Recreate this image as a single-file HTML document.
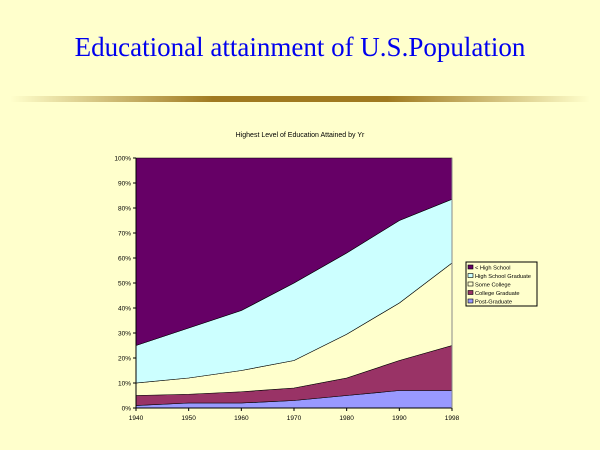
<!DOCTYPE html>
<html><head><meta charset="utf-8"><style>
body{margin:0;width:600px;height:450px;background:#FFFFCC;overflow:hidden;font-family:"Liberation Sans",sans-serif;}
</style></head><body>
<div style="position:absolute;left:0;top:32px;width:600px;text-align:center;font-family:'Liberation Serif',serif;font-size:27px;color:#0000EE;">Educational attainment of U.S.Population</div>
<div style="position:absolute;left:10px;top:96px;width:580px;height:6px;background:linear-gradient(to right,rgba(180,140,40,0),#a07a20 35%,#a07a20 65%,rgba(180,140,40,0));"></div>
<svg id="chart" width="600" height="450" style="position:absolute;left:0;top:0" xmlns="http://www.w3.org/2000/svg"></svg>
<script>
const years=["1940","1950","1960","1970","1980","1990","1998"];
const postGrad=[1,2,2,3,5,7,7];
const collegeGrad=[4,3.5,4.5,5,7,12,18];
const someCollege=[5,6.5,8.5,11,17.5,23,33];
const hsGrad=[15,20,24,31,32.5,33,25.5];
const lessHS=[75,68,61,50,38,25,16.5];
const yTicks=[0,10,20,30,40,50,60,70,80,90,100];
const series=[
 {name:"< High School",vals:lessHS,color:"#660066",key:"less-hs"},
 {name:"High School Graduate",vals:hsGrad,color:"#CCFFFF",key:"hs-grad"},
 {name:"Some College",vals:someCollege,color:"#FFFFCC",key:"some-college"},
 {name:"College Graduate",vals:collegeGrad,color:"#993366",key:"college-grad"},
 {name:"Post-Graduate",vals:postGrad,color:"#9999FF",key:"post-grad"}];
const L=136,R=452,T=158,B=408;
const x=i=>L+i*(R-L)/(years.length-1);
const y=v=>B-v*(B-T)/100;
const svg=document.getElementById('chart');
const NS="http://www.w3.org/2000/svg";
function mk(t,a,p){const e=document.createElementNS(NS,t);for(const k in a)e.setAttribute(k,a[k]);(p||svg).appendChild(e);return e;}
const t=mk('text',{x:300,y:137,'text-anchor':'middle','font-size':7,fill:'#000'});t.textContent="Highest Level of Education Attained by Yr";


const order=[4,3,2,1,0];
let base=years.map(()=>0);
order.forEach(si=>{const s=series[si];const top=base.map((b,i)=>b+s.vals[i]);
 let d="M"+years.map((_,i)=>x(i)+","+y(top[i])).join("L");
 for(let i=years.length-1;i>=0;i--)d+="L"+x(i)+","+y(base[i]);
 const p=mk('path',{d:d+"Z",fill:s.color,stroke:'#000','stroke-width':0.6});
 
 
 base=top;});
mk('line',{x1:L,y1:T,x2:L,y2:B,stroke:'#000','stroke-width':1});
mk('line',{x1:L,y1:B,x2:R,y2:B,stroke:'#000','stroke-width':1});
mk('line',{x1:R,y1:T,x2:R,y2:B,stroke:'#888','stroke-width':1});
yTicks.forEach(v=>{mk('line',{x1:L-3,y1:y(v),x2:L,y2:y(v),stroke:'#000'});
 const tx=mk('text',{x:L-5,y:y(v)+2.5,'text-anchor':'end','font-size':6.5});tx.textContent=v+"%";
 
 });
years.forEach((yr,i)=>{mk('line',{x1:x(i),y1:B,x2:x(i),y2:B+3,stroke:'#000'});
 const tx=mk('text',{x:x(i),y:B+12,'text-anchor':'middle','font-size':6.5});tx.textContent=yr;
 
 });
const lg=mk('g',{});


mk('rect',{x:466,y:262,width:71,height:44,fill:'#FFFFCC',stroke:'#000','stroke-width':1},lg);
series.forEach((s,i)=>{const yy=268+i*8.5;
 mk('rect',{x:468,y:yy-3,width:5,height:4,fill:s.color,stroke:'#000','stroke-width':0.6},lg);
 const tx=mk('text',{x:475,y:yy+1.5,'font-size':5.7},lg);tx.textContent=s.name;
 
 });
</script>
</body></html>
